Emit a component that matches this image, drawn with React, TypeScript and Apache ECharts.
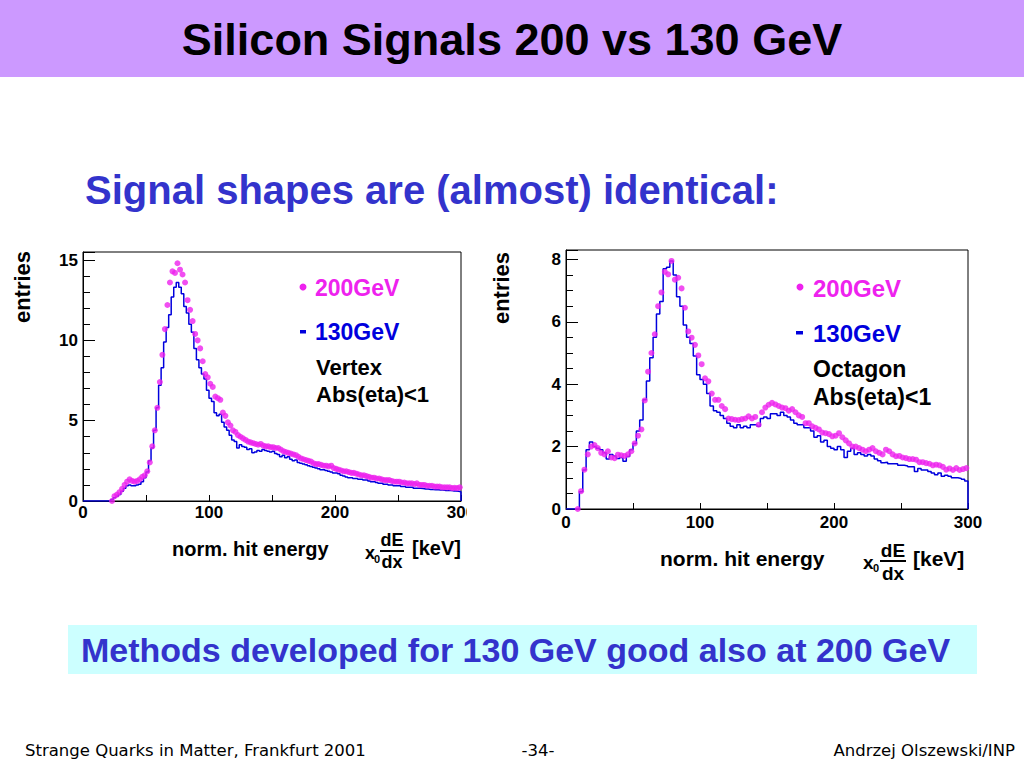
import React, { useEffect, useRef } from "react";
import * as echarts from "echarts";

// Vertex detector, |eta|<1, 2 keV bins from 0 to 300 keV
const vertexBinWidth = 2;
const vertex130 = [
    0, 0, 0, 0, 0, 0, 0, 0, 0, 0,
    0, 0.1, 0.2, 0.3, 0.4, 0.6, 0.8, 0.95, 1.0, 0.95,
    0.95, 1.0, 1.05, 1.2, 1.45, 1.8, 2.5, 3.3, 4.4, 5.8,
    7.2, 8.3, 9.9, 10.8, 11.6, 12.7, 13.3, 13.6, 13.3, 12.9,
    12.1, 11.7, 11.0, 10.5, 9.5, 8.8, 8.3, 7.9, 7.6, 6.9,
    6.4, 6.2, 5.5, 5.3, 5.4, 4.9, 4.6, 4.4, 4.1, 3.8,
    3.7, 3.3, 3.5, 3.4, 3.35, 3.2, 3.25, 3.0, 3.05, 3.15,
    3.1, 3.2, 3.15, 3.1, 3.05, 3.1, 2.95, 2.9, 2.75, 2.85,
    2.7, 2.75, 2.6, 2.5, 2.55, 2.4, 2.35, 2.3, 2.25, 2.2,
    2.15, 2.1, 2.05, 2.0, 1.95, 1.95, 1.9, 1.85, 1.8, 1.75,
    1.75, 1.7, 1.6, 1.55, 1.5, 1.45, 1.45, 1.4, 1.4, 1.35,
    1.35, 1.3, 1.3, 1.25, 1.2, 1.2, 1.15, 1.1, 1.1, 1.05,
    1.05, 1.0, 1.0, 0.95, 0.95, 0.95, 0.9, 0.9, 0.85, 0.85,
    0.85, 0.8, 0.8, 0.8, 0.78, 0.75, 0.75, 0.72, 0.72, 0.7,
    0.7, 0.68, 0.68, 0.66, 0.66, 0.65, 0.63, 0.62, 0.6, 0.58,
];
const vertex200: (number | null)[] = [
    null, null, null, null, null, null, null, null, null, null,
    null, 0.0, 0.3, 0.4, 0.55, 0.75, 1.0, 1.2, 1.35, 1.25,
    1.2, 1.25, 1.35, 1.5, 1.6, 1.85, 2.4, 3.4, 4.4, 5.8,
    7.4, 9.1, 10.7, 12.2, 13.6, 14.3, 14.2, 14.8, 14.4, 14.1,
    13.6, 12.5, 11.9, 11.2, 10.4, 10.0, 9.5, 8.7, 7.9, 7.7,
    7.3, 7.1, 6.5, 6.4, 6.3, 5.5, 5.3, 4.9, 4.7, 4.4,
    4.3, 4.1, 4.0, 3.9, 3.8, 3.7, 3.65, 3.6, 3.55, 3.5,
    3.55, 3.45, 3.4, 3.4, 3.35, 3.35, 3.3, 3.3, 3.2, 3.1,
    3.05, 3.0, 2.95, 2.9, 2.85, 2.75, 2.65, 2.6, 2.55, 2.5,
    2.45, 2.35, 2.3, 2.3, 2.25, 2.2, 2.2, 2.15, 2.2, 2.05,
    2.0, 1.95, 1.9, 1.85, 1.85, 1.8, 1.75, 1.75, 1.7, 1.65,
    1.6, 1.6, 1.55, 1.5, 1.45, 1.45, 1.4, 1.4, 1.35, 1.3,
    1.3, 1.3, 1.25, 1.2, 1.2, 1.2, 1.15, 1.15, 1.1, 1.1,
    1.1, 1.05, 1.1, 1.0, 1.0, 1.0, 0.95, 0.95, 0.95, 0.9,
    0.9, 0.9, 0.85, 0.85, 0.85, 0.85, 0.8, 0.82, 0.8, 0.85,
];

// Octagon detector, |eta|<1, 2.5 keV bins from 0 to 300 keV
const octagonBinWidth = 2.5;
const octagon130 = [
    0, 0, 0, 0, 0.55, 1.25, 1.9, 2.15, 2.0, 1.95,
    1.9, 1.8, 1.6, 1.75, 1.7, 1.62, 1.65, 1.53, 1.68, 1.9,
    2.1, 2.5, 2.85, 3.5, 4.1, 4.85, 5.5, 6.25, 6.65, 7.7,
    7.75, 7.95, 7.5, 6.8, 6.5, 5.9, 5.5, 5.3, 4.9, 4.3,
    4.15, 4.0, 3.7, 3.3, 3.15, 3.1, 3.0, 2.9, 2.75, 2.65,
    2.6, 2.7, 2.6, 2.65, 2.6, 2.7, 2.7, 2.65, 2.9, 2.95,
    2.9, 3.05, 3.05, 3.0, 3.1, 3.0, 2.95, 2.85, 2.75, 2.7,
    2.7, 2.6, 2.6, 2.5, 2.3, 2.35, 2.15, 2.2, 2.0, 1.95,
    1.9, 2.0, 1.9, 1.65, 1.85, 1.95, 1.75, 1.8, 1.75, 1.7,
    1.75, 1.7, 1.6, 1.55, 1.48, 1.5, 1.45, 1.45, 1.45, 1.4,
    1.4, 1.38, 1.35, 1.35, 1.2, 1.3, 1.25, 1.25, 1.2, 1.15,
    1.1, 1.15, 1.05, 1.08, 1.05, 1.0, 1.0, 0.98, 0.95, 0.9,
];
const octagon200: (number | null)[] = [
    null, null, null, 0.0, 0.57, 1.26, 1.75, 2.0, 2.05, 1.95,
    1.8, 1.75, 1.85, 1.65, 1.63, 1.74, 1.72, 1.7, 1.75, 1.85,
    2.1, 2.35, 2.55, 3.48, 4.4, 5.0, 5.6, 6.5, 6.94, 7.6,
    7.52, 7.95, 7.35, 7.41, 7.07, 6.45, 5.69, 5.49, 5.26, 4.92,
    4.64, 4.19, 4.09, 3.7, 3.5, 3.5, 3.3, 3.2, 2.9, 2.88,
    2.86, 2.85, 2.88, 2.9, 2.97, 2.9, 2.95, 2.7, 3.1, 3.25,
    3.34, 3.4, 3.35, 3.3, 3.25, 3.23, 3.15, 3.2, 3.1, 3.0,
    2.95, 2.75, 2.75, 2.65, 2.6, 2.55, 2.45, 2.43, 2.4, 2.33,
    2.35, 2.43, 2.3, 2.2, 2.1, 2.0, 2.0, 1.95, 1.9, 1.85,
    1.9, 1.95, 1.85, 1.8, 1.75, 1.9, 1.85, 1.75, 1.69, 1.7,
    1.65, 1.63, 1.6, 1.6, 1.58, 1.5, 1.5, 1.47, 1.45, 1.4,
    1.42, 1.4, 1.35, 1.26, 1.3, 1.25, 1.31, 1.25, 1.28, 1.31,
];

const xMax = 300;
const xTickStep = 50;
const xLabelStep = 100;

const FONT = '"Liberation Sans", Arial, Helvetica, sans-serif';
const FOOT_FONT = `16.5px "DejaVu Sans", sans-serif`;
const MAGENTA = "#ee22ee";
const BLUE = "#0000dd";
const SLIDE_BLUE = "#3333cc";

// histogram outline: one point per lower bin edge, closed down to 0 at the right end
function histogramEdges(values: number[], width: number): number[][] {
    const pts = values.map((v, i) => [i * width, v]);
    pts.push([values.length * width, 0]);
    return pts;
}

function binCentres(values: (number | null)[], width: number): number[][] {
    return values
        .map((v, i) => (v === null ? null : [i * width + width / 2, v]))
        .filter((p): p is number[] => p !== null);
}

function txt(x: number, y: number, text: string, size: number, fill = "#000", align = "left", extra: any = {}) {
    return {
        type: "text",
        x,
        y,
        ...extra,
        style: {
            text,
            fill,
            font: `bold ${size}px ${FONT}`,
            textAlign: align,
            textVerticalAlign: "middle",
        },
    };
}

function footer(x: number, text: string, align: string) {
    return {
        type: "text",
        x,
        y: 750,
        style: { text, fill: "#000", font: FOOT_FONT, textAlign: align, textVerticalAlign: "middle" },
    };
}

function xAxisFor(gridIndex: number, labelMargin: number) {
    return {
        gridIndex,
        type: "value" as const,
        min: 0,
        max: xMax,
        interval: xTickStep,
        axisLine: { show: true, lineStyle: { color: "#000", width: 1 } },
        axisTick: { show: true, inside: true, length: 6, lineStyle: { color: "#000" } },
        splitLine: { show: false },
        axisLabel: {
            color: "#000",
            fontFamily: FONT,
            fontWeight: "bold" as const,
            fontSize: 17,
            margin: labelMargin,
            formatter: (v: number) => (v % xLabelStep === 0 ? String(v) : ""),
        },
    };
}

function yAxisFor(gridIndex: number, max: number, interval: number, minorSplit: number) {
    return {
        gridIndex,
        type: "value" as const,
        min: 0,
        max,
        interval,
        axisLine: { show: true, lineStyle: { color: "#000", width: 1 } },
        axisTick: { show: true, inside: true, length: 12, lineStyle: { color: "#000" } },
        minorTick: { show: true, splitNumber: minorSplit, length: 7, lineStyle: { color: "#000" } },
        splitLine: { show: false },
        axisLabel: {
            color: "#000",
            fontFamily: FONT,
            fontWeight: "bold" as const,
            fontSize: 17,
            margin: 5,
            formatter: (v: number) => (Math.abs(v % interval) < 1e-9 ? String(v) : ""),
        },
    };
}

export default function App() {
    const chartRef = useRef<HTMLDivElement>(null);

    useEffect(() => {
        if (chartRef.current === null) return;
        const chart = echarts.init(chartRef.current, undefined, { renderer: "svg" });

        const option: any = {
            animation: false,
            backgroundColor: "#fff",
            grid: [
                { left: 83, top: 252, width: 378, height: 249, show: true, borderColor: "#000", borderWidth: 1, backgroundColor: "#fff" },
                { left: 566, top: 250, width: 402, height: 259, show: true, borderColor: "#000", borderWidth: 1, backgroundColor: "#fff" },
            ],
            xAxis: [xAxisFor(0, 3), xAxisFor(1, 5)],
            yAxis: [yAxisFor(0, 15.5, 5, 5), yAxisFor(1, 8.3, 2, 4)],
            series: [
                {
                    name: "130GeV",
                    type: "line",
                    xAxisIndex: 0,
                    yAxisIndex: 0,
                    step: "end",
                    showSymbol: false,
                    data: histogramEdges(vertex130, vertexBinWidth),
                    lineStyle: { color: BLUE, width: 1.5 },
                    z: 2,
                },
                {
                    name: "200GeV",
                    type: "scatter",
                    xAxisIndex: 0,
                    yAxisIndex: 0,
                    symbolSize: 6,
                    data: binCentres(vertex200, vertexBinWidth),
                    itemStyle: { color: MAGENTA },
                    z: 3,
                },
                {
                    name: "130GeV",
                    type: "line",
                    xAxisIndex: 1,
                    yAxisIndex: 1,
                    step: "end",
                    showSymbol: false,
                    data: histogramEdges(octagon130, octagonBinWidth),
                    lineStyle: { color: BLUE, width: 1.5 },
                    z: 2,
                },
                {
                    name: "200GeV",
                    type: "scatter",
                    xAxisIndex: 1,
                    yAxisIndex: 1,
                    symbolSize: 6,
                    data: binCentres(octagon200, octagonBinWidth),
                    itemStyle: { color: MAGENTA },
                    z: 3,
                },
            ],
            graphic: [
                // slide header
                { type: "rect", shape: { x: 0, y: 0, width: 1024, height: 77 }, style: { fill: "#cc99ff" }, z: -1 },
                txt(512, 39, "Silicon Signals 200 vs 130 GeV", 45, "#000", "center"),
                txt(85, 190, "Signal shapes are (almost) identical:", 40, SLIDE_BLUE),

                // left pad cut off at the right edge
                { type: "rect", shape: { x: 467, y: 503, width: 14, height: 22 }, style: { fill: "#fff" }, z: 10 },

                // left panel texts
                txt(22, 287, "entries", 22, "#000", "center", { rotation: Math.PI / 2 }),
                { type: "circle", shape: { cx: 303, cy: 287, r: 3.5 }, style: { fill: MAGENTA } },
                txt(315, 288, "200GeV", 23, MAGENTA),
                { type: "rect", shape: { x: 300, y: 330, width: 6, height: 3.5 }, style: { fill: BLUE } },
                txt(315, 332, "130GeV", 23, BLUE),
                txt(316, 367, "Vertex", 22),
                txt(316, 394, "Abs(eta)<1", 22),
                txt(172, 549, "norm. hit energy", 20),
                txt(365, 553, "x", 18),
                txt(374, 559, "0", 11),
                txt(392, 540, "dE", 18, "#000", "center"),
                { type: "line", shape: { x1: 380, y1: 551, x2: 404, y2: 551 }, style: { stroke: "#000", lineWidth: 2 } },
                txt(392, 562, "dx", 18, "#000", "center"),
                txt(412, 548, "[keV]", 20),

                // right panel texts
                txt(501, 288, "entries", 22, "#000", "center", { rotation: Math.PI / 2 }),
                { type: "circle", shape: { cx: 800, cy: 287, r: 3.5 }, style: { fill: MAGENTA } },
                txt(813, 288, "200GeV", 24, MAGENTA),
                { type: "rect", shape: { x: 796, y: 331, width: 7, height: 3.5 }, style: { fill: BLUE } },
                txt(813, 333, "130GeV", 24, BLUE),
                txt(813, 369, "Octagon", 23),
                txt(813, 397, "Abs(eta)<1", 23),
                txt(660, 558, "norm. hit energy", 21),
                txt(863, 562, "x", 19),
                txt(873, 568, "0", 11),
                txt(893, 550, "dE", 19, "#000", "center"),
                { type: "line", shape: { x1: 880, y1: 561, x2: 906, y2: 561 }, style: { stroke: "#000", lineWidth: 2 } },
                txt(893, 573, "dx", 19, "#000", "center"),
                txt(913, 558, "[keV]", 21),

                // conclusion box
                { type: "rect", shape: { x: 68, y: 625, width: 909, height: 49 }, style: { fill: "#ccffff" }, z: -1 },
                txt(81, 650, "Methods developed for 130 GeV good also at 200 GeV", 34, SLIDE_BLUE),

                // footer
                footer(25, "Strange Quarks in Matter, Frankfurt 2001", "left"),
                footer(538, "-34-", "center"),
                footer(1015, "Andrzej Olszewski/INP", "right"),
            ],
        };

        chart.setOption(option);

        return () => {
            chart.dispose();
        };
    }, []);

    return (
        <div
            ref={chartRef}
            style={{ position: "absolute", left: 0, top: 0, width: "1024px", height: "768px", background: "#fff" }}
        />
    );
}
